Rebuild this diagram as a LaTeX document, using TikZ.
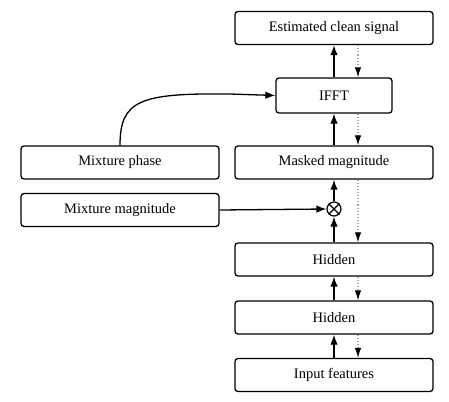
\documentclass[tikz,border=0pt]{standalone}
\usepackage{fontspec}
\setmainfont{Liberation Serif}
\usetikzlibrary{arrows.meta}
\begin{document}
\begin{tikzpicture}[x=1pt,y=-1pt,
  box/.style={draw, line width=1.3pt, rounded corners=3pt, minimum width=198pt, minimum height=33pt, inner sep=0pt, font=\fontsize{14.5}{16}\selectfont},
  fwd/.style={line width=1.3pt, -{Latex[length=10pt,width=7.5pt]}},
  bwd/.style={draw=gray!70, dotted, line width=1.1pt, -{Latex[length=10pt,width=6.5pt,black]}}]
\useasboundingbox (0,0) rectangle (449,401);
\node[box] (est) at (334,28) {Estimated clean signal};
\node[box, minimum width=116pt, minimum height=35pt] (ifft) at (334,95.5) {IFFT};
\node[box] (mask) at (334,162.5) {Masked magnitude};
\node[draw, circle, line width=1.2pt, minimum size=14pt, inner sep=0pt] (mul) at (334,209) {};
\draw[line width=1.1pt] (mul.45) -- (mul.225) (mul.135) -- (mul.315);
\node[box] (h1) at (334,259.5) {Hidden};
\node[box] (h2) at (334,317.5) {Hidden};
\node[box] (inp) at (334,375) {Input features};
\node[box] (phase) at (120,162.5) {Mixture phase};
\node[box] (mag) at (120,210) {Mixture magnitude};
% forward
\draw[fwd] (inp) -- (h2);
\draw[fwd] (h2) -- (h1);
\draw[fwd] (h1) -- (mul);
\draw[fwd] (mul) -- (mask);
\draw[fwd] (mask) -- (ifft);
\draw[fwd] (ifft) -- (est);
\draw[fwd] (mag.east) -- (mul.west);
\draw[fwd] (phase.north) .. controls (120,100) and (140,93) .. (230,94) -- (ifft.west);
% backward
\draw[bwd] ([xshift=24pt]est.south) -- ([xshift=24pt]ifft.north);
\draw[bwd] ([xshift=24pt]ifft.south) -- ([xshift=24pt]mask.north);
\draw[bwd] ([xshift=24pt]mask.south) -- ([xshift=24pt]h1.north);
\draw[bwd] ([xshift=24pt]h1.south) -- ([xshift=24pt]h2.north);
\draw[bwd] ([xshift=24pt]h2.south) -- ([xshift=24pt]inp.north);
\end{tikzpicture}
\end{document}
